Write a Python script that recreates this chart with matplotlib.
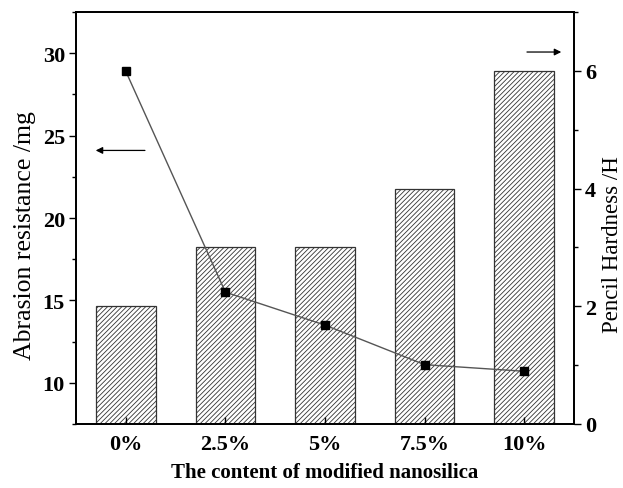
import matplotlib.pyplot as plt
from matplotlib.ticker import MultipleLocator

plt.rcParams['font.family'] = 'Liberation Serif'
plt.rcParams['hatch.linewidth'] = 0.6

# datos
categorias = ['0%', '2.5%', '5%', '7.5%', '10%']
dureza = [2, 3, 3, 4, 6]                       # Pencil Hardness /H (barras, eje derecho)
abrasion = [28.9, 15.5, 13.5, 11.1, 10.7]      # Abrasion resistance /mg (linea, eje izquierdo)

fig = plt.figure(figsize=(6.23, 4.89), dpi=100)
ax1 = fig.add_axes([76 / 623, 1 - 425 / 489, (574 - 76) / 623, (425 - 13) / 489])
ax2 = ax1.twinx()

x = list(range(len(categorias)))

# barras con rayado en el eje derecho
ax2.bar(x, dureza, width=0.6, color='white', edgecolor='#333333',
        linewidth=0.9, hatch='///////')
ax2.set_ylim(0, 7)
ax2.yaxis.set_major_locator(MultipleLocator(2))
ax2.yaxis.set_minor_locator(MultipleLocator(1))
ax2.set_ylabel('Pencil Hardness /H', fontsize=16.5, labelpad=4)
ax2.yaxis.label.set_y(0.437)

# linea en el eje izquierdo, encima de las barras
ax1.set_zorder(ax2.get_zorder() + 1)
ax1.patch.set_visible(False)
ax1.plot(x, abrasion, color='#555555', linewidth=1.0, marker='s',
         markersize=6, markerfacecolor='black', markeredgecolor='black')
ax1.set_ylim(7.5, 32.5)
ax1.set_xlim(-0.5, 4.5)
ax1.yaxis.set_major_locator(MultipleLocator(5))
ax1.yaxis.set_minor_locator(MultipleLocator(2.5))
ax1.set_ylabel('Abrasion resistance /mg', fontsize=18.5, labelpad=5)
ax1.yaxis.label.set_y(0.46)
ax1.set_xlabel('The content of modified nanosilica', fontsize=15,
               fontweight='bold', labelpad=6)
ax1.set_xticks(x)
ax1.set_xticklabels(categorias)

for ax in (ax1, ax2):
    ax.tick_params(axis='y', which='major', direction='out', length=5,
                   width=1, labelsize=16, pad=3)
    ax.tick_params(axis='y', which='minor', direction='out', length=3, width=1)
    for lab in ax.get_yticklabels():
        lab.set_fontweight('bold')
    for s in ax.spines.values():
        s.set_linewidth(1.3)

ax1.tick_params(axis='x', direction='in', length=5, width=1, labelsize=16,
                pad=7, top=False)
for lab in ax1.get_xticklabels():
    lab.set_fontweight('bold')

# flechas indicando el eje de cada serie
ax1.annotate('', xy=(-0.33, 24.1), xytext=(0.22, 24.1),
             arrowprops=dict(arrowstyle='-|>', color='black', lw=0.9,
                             mutation_scale=10))
ax2.annotate('', xy=(4.4, 6.32), xytext=(4.0, 6.32),
             arrowprops=dict(arrowstyle='-|>', color='black', lw=0.9,
                             mutation_scale=10))

fig.savefig('out.png', dpi=100)
